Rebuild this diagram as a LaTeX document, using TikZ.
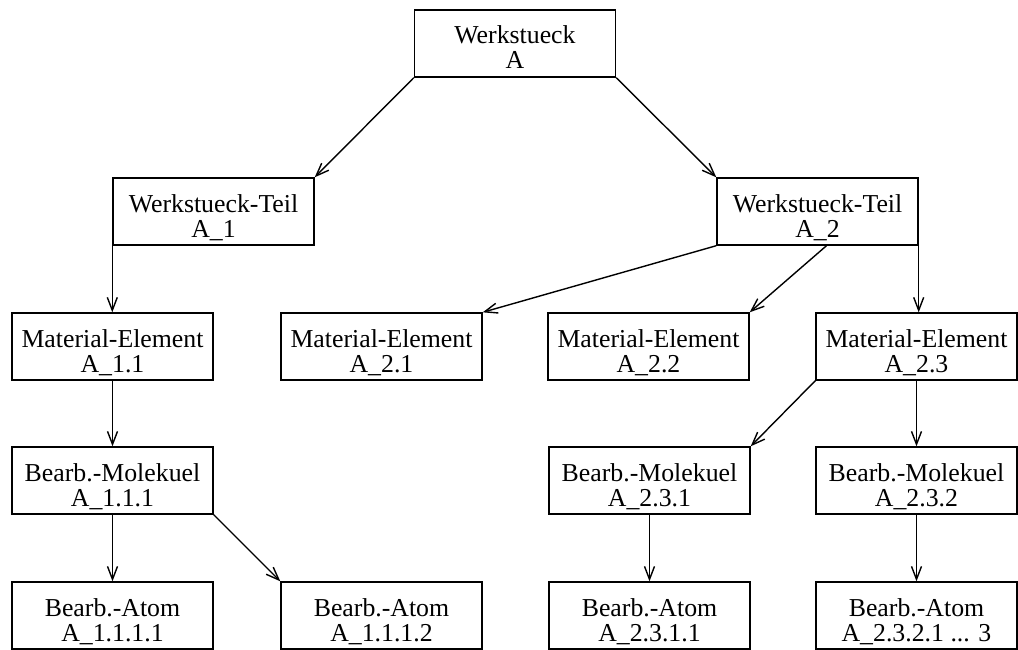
\documentclass[tikz,border=0pt]{standalone}
\usepackage{fontspec}
\setmainfont{Liberation Serif}
\usetikzlibrary{arrows.meta,calc}
% two centred lines, the first one's baseline is the box baseline
\newcommand{\twolines}[2]{\begin{tabular}[t]{@{}c@{}}#1\\#2\end{tabular}}
\begin{document}
\begin{tikzpicture}[x=1pt,y=-1pt,
  box/.style={draw,line width=1.4pt,rectangle,minimum width=201pt,minimum height=67pt,
    inner sep=0pt,text height=34pt,text depth=33pt,font=\fontsize{25.8}{25}\selectfont},
  link/.style={line width=1.4pt,-{Straight Barb[length=13pt,width=10pt,line width=1.4pt]}}]
\useasboundingbox (0,0) rectangle (1018,650);
% level 0
\node[box] (w)    at (515,43.5)   {\twolines{Werkstueck}{A}};
% level 1
\node[box] (wt1)  at (213.5,211.5) {\twolines{Werkstueck-Teil}{A\_1}};
\node[box] (wt2)  at (817.5,211.5) {\twolines{Werkstueck-Teil}{A\_2}};
% level 2
\node[box] (me11) at (112.5,346.5) {\twolines{Material-Element}{A\_1.1}};
\node[box] (me21) at (381.5,346.5) {\twolines{Material-Element}{A\_2.1}};
\node[box] (me22) at (648.5,346.5) {\twolines{Material-Element}{A\_2.2}};
\node[box] (me23) at (916.5,346.5) {\twolines{Material-Element}{A\_2.3}};
% level 3
\node[box] (bm111) at (112.5,480.5) {\twolines{Bearb.-Molekuel}{A\_1.1.1}};
\node[box] (bm231) at (649.5,480.5) {\twolines{Bearb.-Molekuel}{A\_2.3.1}};
\node[box] (bm232) at (916.5,480.5) {\twolines{Bearb.-Molekuel}{A\_2.3.2}};
% level 4
\node[box] (ba1111) at (112.5,615.5) {\twolines{Bearb.-Atom}{A\_1.1.1.1}};
\node[box] (ba1112) at (381.5,615.5) {\twolines{Bearb.-Atom}{A\_1.1.1.2}};
\node[box] (ba2311) at (649.5,615.5) {\twolines{Bearb.-Atom}{A\_2.3.1.1}};
\node[box] (ba2321) at (916.5,615.5) {\twolines{Bearb.-Atom}{A\_2.3.2.1 ... 3}};
% connectors
\draw[link] (w.south west) -- (wt1.north east);
\draw[link] (w.south east) -- (wt2.north west);
\draw[link] (wt1.south west) -- (wt1.south west |- me11.north);
\draw[link] (wt2.south west) -- (me21.north east);
\draw[link] ($(wt2.south)+(9,0)$) -- (me22.north east);
\draw[link] (wt2.south east) -- (wt2.south east |- me23.north);
\draw[link] (me11.south) -- (bm111.north);
\draw[link] (me23.south west) -- (bm231.north east);
\draw[link] (me23.south) -- (bm232.north);
\draw[link] (bm111.south) -- (ba1111.north);
\draw[link] (bm111.south east) -- (ba1112.north west);
\draw[link] (bm231.south) -- (ba2311.north);
\draw[link] (bm232.south) -- (ba2321.north);
\end{tikzpicture}
\end{document}
